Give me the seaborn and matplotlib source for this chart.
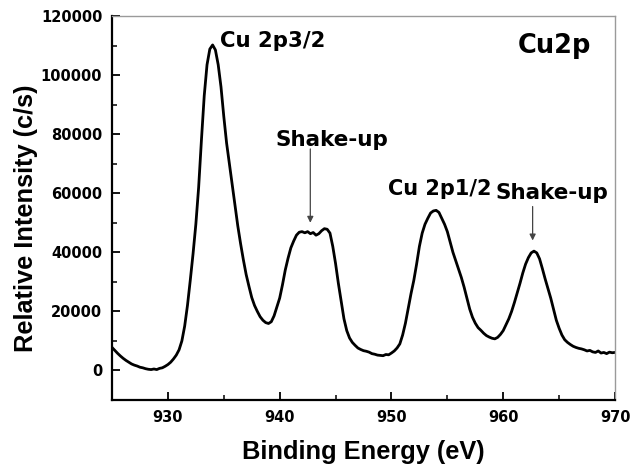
import numpy as np
import pandas as pd
import matplotlib
matplotlib.use("Agg")
import matplotlib.pyplot as plt
import seaborn as sns
from matplotlib.ticker import MultipleLocator

# ---- data ----
energy_start = 925.0
energy_step = 0.25
intensity = [
    7800, 6800, 5800, 4900, 4100, 3400, 2800, 2200, 1800, 1500,    # 925.00 - 927.25
    1100, 900, 600, 400, 300, 500, 300, 700, 900, 1400,            # 927.50 - 929.75
    2000, 2800, 3900, 5200, 7000, 10000, 15000, 22000, 30500, 39500,  # 930.00 - 932.25
    49500, 62000, 78000, 93000, 103500, 108800, 110200, 108500, 103500, 96000,  # 932.50 - 934.75
    86000, 77000, 70000, 63000, 56000, 49000, 43000, 37500, 32500, 28500,  # 935.00 - 937.25
    24700, 22000, 20000, 18200, 17000, 16200, 15900, 16500, 18500, 21500,  # 937.50 - 939.75
    24500, 29000, 34000, 38000, 41500, 43800, 45800, 46800, 47000, 46600,  # 940.00 - 942.25
    47000, 46300, 46700, 45800, 46300, 47300, 48000, 47800, 46500, 42000,  # 942.50 - 944.75
    36200, 29500, 23500, 17500, 13500, 11000, 9500, 8500, 7600, 7100,      # 945.00 - 947.25
    6700, 6500, 6200, 5700, 5500, 5200, 5100, 5000, 5400, 5300,            # 947.50 - 949.75
    5900, 6600, 7600, 9000, 12000, 16000, 21000, 26000, 30500, 36000,      # 950.00 - 952.25
    42000, 46500, 49500, 51500, 53300, 54000, 54200, 53500, 51500, 49500,  # 952.50 - 954.75
    47000, 43500, 40000, 37200, 34500, 31500, 28200, 24500, 20800, 18000,  # 955.00 - 957.25
    16000, 14500, 13600, 12600, 11800, 11300, 10900, 10700, 11200, 12200,  # 957.50 - 959.75
    13500, 15500, 17500, 20000, 23000, 26200, 29500, 33000, 36000, 38200,  # 960.00 - 962.25
    39800, 40400, 39800, 37800, 34500, 31000, 27800, 24500, 20800, 17000,  # 962.50 - 964.75
    14300, 12000, 10400, 9500, 8800, 8200, 7800, 7500, 7300, 7000,         # 965.00 - 967.25
    6600, 6800, 6300, 6100, 6600, 5900, 6100, 5700, 6200, 6000,            # 967.50 - 969.75
    6100,                                                                  # 970.00
]
energy = energy_start + energy_step * np.arange(len(intensity))

x_ticks = [930, 940, 950, 960, 970]
y_ticks = [0, 20000, 40000, 60000, 80000, 100000, 120000]

annotations = ["Cu 2p3/2", "Shake-up", "Cu 2p1/2", "Shake-up"]
ann_text_pos = [(934.65, 109500), (939.6, 75900), (949.7, 59300), (959.3, 58000)]
ann_sizes = [15.3, 15.5, 15, 15.5]
arrows = [((942.74, 75000), (942.74, 50000)), ((962.63, 55500), (962.63, 44000))]

df = pd.DataFrame({"Binding Energy (eV)": energy, "Relative Intensity (c/s)": intensity})

# ---- figure ----
sns.set_style("ticks")
plt.rcParams["font.family"] = ["DejaVu Sans"]
plt.rcParams["text.color"] = "black"
plt.rcParams["axes.labelcolor"] = "black"
plt.rcParams["xtick.color"] = "black"
plt.rcParams["ytick.color"] = "black"
fig = plt.figure(figsize=(6.3, 4.68), dpi=100)
ax = fig.add_axes([0.1778, 0.1453, 0.7984, 0.8205])

sns.lineplot(data=df, x="Binding Energy (eV)", y="Relative Intensity (c/s)",
             color="black", linewidth=2.0, ax=ax, estimator=None, sort=False)

ax.set_xlim(925, 970)
ax.set_ylim(-10000, 120000)
ax.set_xticks(x_ticks)
ax.set_yticks(y_ticks)
ax.xaxis.set_minor_locator(MultipleLocator(5))
ax.yaxis.set_minor_locator(MultipleLocator(10000))
ax.tick_params(axis="both", which="major", direction="in", length=6, width=1.3,
               color="black", labelcolor="black", pad=7)
ax.tick_params(axis="both", which="minor", direction="in", length=3.5, width=1.1,
               color="black")
ax.tick_params(top=False, right=False, which="both")
for lab in ax.get_xticklabels() + ax.get_yticklabels():
    lab.set_fontweight("bold")
    lab.set_fontsize(10.5)
    lab.set_family("DejaVu Sans")
    lab.set_color("black")

for side in ["left", "bottom"]:
    ax.spines[side].set_color("black")
    ax.spines[side].set_linewidth(1.6)
for side in ["top", "right"]:
    ax.spines[side].set_visible(True)
    ax.spines[side].set_color("#9a9a9a")
    ax.spines[side].set_linewidth(1.0)

lab_font = dict(family="Liberation Sans", fontweight="bold", fontsize=18.3, color="black")
ax.set_xlabel("Binding Energy (eV)", **lab_font)
ax.set_ylabel("Relative Intensity (c/s)", **lab_font)
ax.xaxis.set_label_coords(0.5, -0.105)
ax.yaxis.set_label_coords(-0.147, 0.473)

for txt, (tx, ty), fs in zip(annotations, ann_text_pos, ann_sizes):
    ax.text(tx, ty, txt, ha="left", va="baseline", fontsize=fs,
            fontweight="bold", family="DejaVu Sans", color="black")
ax.text(961.3, 107450, "Cu2p", ha="left", va="baseline", fontsize=18.5,
        fontweight="bold", family="DejaVu Sans", color="black")

for (start, end) in arrows:
    ax.annotate("", xy=end, xytext=start,
                arrowprops=dict(arrowstyle="-|>", color="#444444", lw=0.9,
                                mutation_scale=9, shrinkA=0, shrinkB=0))

fig.savefig("out.png", dpi=100)
